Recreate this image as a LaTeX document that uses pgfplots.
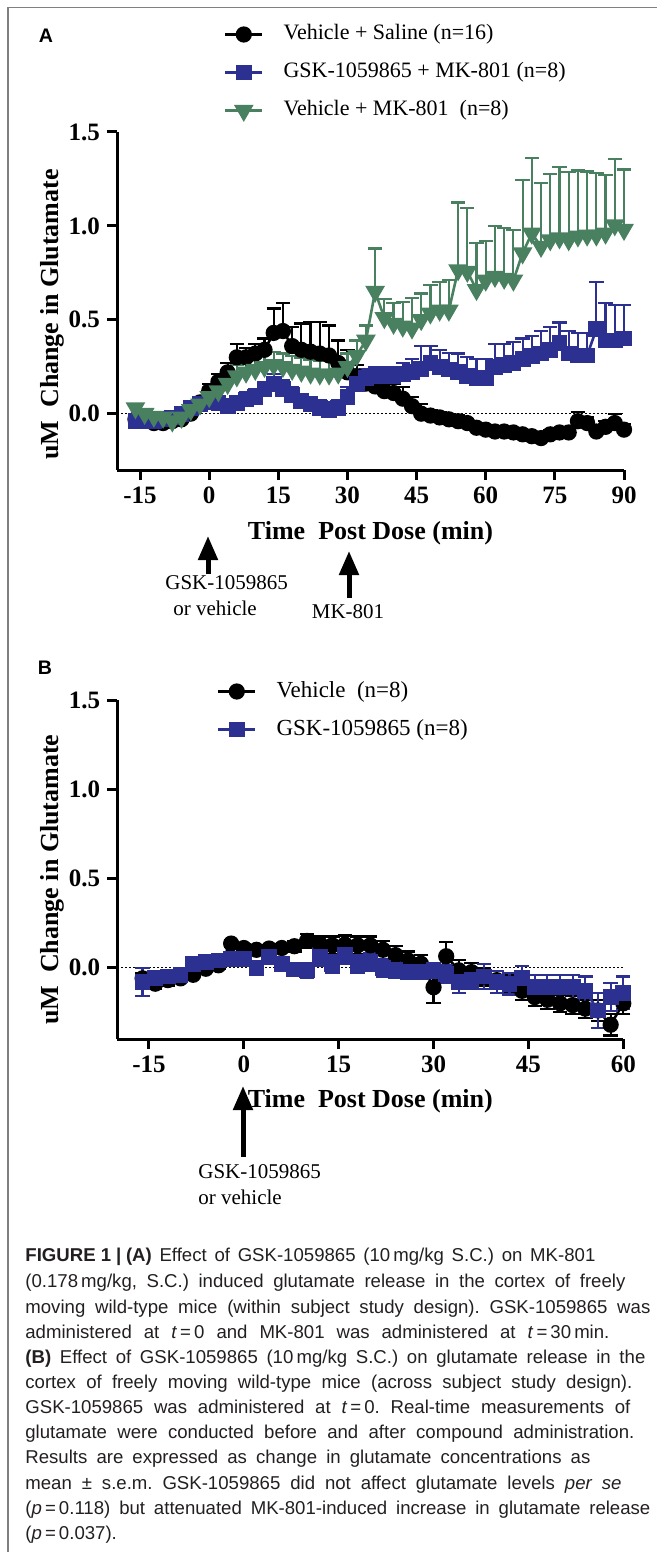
\documentclass[border=0pt]{standalone}
\usepackage{fontspec}
\setmainfont{Liberation Serif}
\setsansfont{Liberation Sans}
\usepackage{pgfplots}
\pgfplotsset{compat=1.18}
\usepackage{pgfplotstable}
\usetikzlibrary{arrows.meta}

\definecolor{gblue}{RGB}{44,48,145}
\definecolor{ggreen}{RGB}{72,128,96}
\definecolor{framegray}{RGB}{128,128,128}
\definecolor{captext}{RGB}{35,31,32}

% panel A: time, mean, s.e.m. (only upper bar drawn)
\pgfplotstableread{
t y e
-16 -0.03 0.02
-14 -0.03 0.02
-12 -0.05 0.02
-10 -0.05 0.02
-8 -0.04 0.02
-6 -0.03 0.02
-4 0.00 0.03
-2 0.06 0.03
0 0.12 0.04
2 0.17 0.04
4 0.22 0.05
6 0.30 0.07
8 0.30 0.05
10 0.32 0.05
12 0.34 0.06
14 0.43 0.13
16 0.44 0.15
18 0.36 0.10
20 0.34 0.14
22 0.33 0.16
24 0.32 0.17
26 0.31 0.16
28 0.27 0.12
30 0.22 0.12
32 0.20 0.06
34 0.16 0.05
36 0.145 0.05
38 0.12 0.05
40 0.11 0.05
42 0.08 0.06
44 0.04 0.05
46 0.00 0.05
48 -0.01 0.03
50 -0.02 0.03
52 -0.03 0.03
54 -0.04 0.03
56 -0.05 0.02
58 -0.075 0.02
60 -0.085 0.02
62 -0.095 0.02
64 -0.095 0.02
66 -0.10 0.02
68 -0.11 0.02
70 -0.12 0.02
72 -0.13 0.02
74 -0.11 0.02
76 -0.10 0.02
78 -0.10 0.02
80 -0.04 0.05
82 -0.05 0.03
84 -0.095 0.03
86 -0.07 0.03
88 -0.05 0.05
90 -0.085 0.03
}\vehsal

\pgfplotstableread{
t y e
-16 -0.04 0.02
-14 -0.04 0.02
-12 -0.04 0.02
-10 -0.03 0.02
-8 -0.02 0.02
-6 0.00 0.02
-4 0.03 0.03
-2 0.05 0.03
0 0.06 0.03
2 0.055 0.03
4 0.04 0.04
6 0.055 0.04
8 0.075 0.04
10 0.09 0.04
12 0.13 0.04
14 0.16 0.05
16 0.13 0.05
18 0.10 0.04
20 0.065 0.04
22 0.05 0.04
24 0.03 0.04
26 0.02 0.04
28 0.03 0.04
30 0.09 0.05
32 0.16 0.05
34 0.19 0.05
36 0.20 0.05
38 0.20 0.05
40 0.20 0.05
42 0.21 0.06
44 0.22 0.07
46 0.24 0.12
48 0.27 0.09
50 0.25 0.09
52 0.235 0.09
54 0.22 0.10
56 0.20 0.10
58 0.19 0.10
60 0.19 0.10
62 0.25 0.12
64 0.26 0.11
66 0.27 0.11
68 0.29 0.11
70 0.305 0.11
72 0.32 0.12
74 0.34 0.12
76 0.375 0.11
78 0.32 0.12
80 0.31 0.12
82 0.31 0.12
84 0.45 0.25
86 0.39 0.20
88 0.39 0.19
90 0.40 0.18
}\gskmk

\pgfplotstableread{
t y e
-16 0.03 0.02
-14 0.00 0.02
-12 -0.015 0.02
-10 -0.02 0.02
-8 -0.04 0.02
-6 -0.02 0.03
-4 0.02 0.03
-2 0.05 0.04
0 0.09 0.05
2 0.12 0.05
4 0.16 0.06
6 0.20 0.06
8 0.22 0.06
10 0.235 0.06
12 0.25 0.07
14 0.26 0.07
16 0.25 0.07
18 0.235 0.07
20 0.225 0.07
22 0.215 0.07
24 0.21 0.07
26 0.21 0.07
28 0.215 0.07
30 0.25 0.07
32 0.31 0.08
34 0.39 0.08
36 0.65 0.23
38 0.51 0.10
40 0.48 0.11
42 0.465 0.13
44 0.455 0.16
46 0.50 0.14
48 0.535 0.15
50 0.55 0.15
52 0.55 0.16
54 0.765 0.36
56 0.757 0.34
58 0.66 0.25
60 0.71 0.21
62 0.73 0.27
64 0.72 0.27
66 0.71 0.27
68 0.855 0.39
70 0.96 0.40
72 0.89 0.34
74 0.925 0.35
76 0.935 0.38
78 0.925 0.36
80 0.945 0.35
82 0.95 0.34
84 0.95 0.33
86 0.96 0.31
88 1.005 0.35
90 0.98 0.32
}\vehmk

% panel B
\pgfplotstableread{
t y e
-16 -0.06 0.03
-14 -0.09 0.03
-12 -0.07 0.03
-10 -0.06 0.02
-8 -0.04 0.02
-6 -0.006 0.02
-4 0.013 0.02
-2 0.135 0.02
0 0.11 0.02
2 0.10 0.02
4 0.107 0.02
6 0.11 0.02
8 0.12 0.03
10 0.15 0.04
12 0.135 0.04
14 0.125 0.05
16 0.13 0.05
18 0.125 0.05
20 0.125 0.05
22 0.10 0.05
24 0.07 0.05
26 0.04 0.05
28 0.022 0.05
30 -0.11 0.09
32 0.064 0.08
34 -0.015 0.06
36 -0.025 0.05
38 -0.05 0.05
40 -0.07 0.05
42 -0.09 0.05
44 -0.13 0.05
46 -0.165 0.05
48 -0.18 0.05
50 -0.20 0.05
52 -0.21 0.05
54 -0.23 0.05
56 -0.24 0.06
58 -0.32 0.06
60 -0.20 0.06
}\vehB

\pgfplotstableread{
t y e
-16 -0.08 0.08
-14 -0.06 0.03
-12 -0.05 0.03
-10 -0.04 0.03
-8 0.02 0.03
-6 0.03 0.03
-4 0.04 0.03
-2 0.05 0.03
0 0.05 0.03
2 0.00 0.03
4 0.06 0.03
6 0.02 0.03
8 -0.01 0.03
10 -0.015 0.04
12 0.06 0.05
14 0.02 0.05
16 0.07 0.05
18 0.02 0.05
20 0.03 0.05
22 0.00 0.05
24 -0.015 0.04
26 -0.025 0.04
28 -0.025 0.04
30 -0.015 0.04
32 -0.035 0.05
34 -0.08 0.06
36 -0.07 0.05
38 -0.05 0.07
40 -0.08 0.06
42 -0.09 0.06
44 -0.06 0.07
46 -0.11 0.07
48 -0.11 0.07
50 -0.11 0.07
52 -0.11 0.07
54 -0.13 0.08
56 -0.24 0.10
58 -0.165 0.08
60 -0.14 0.09
}\gskB

\pgfplotsset{
  prism/.style={
    scale only axis, anchor=south west,
    axis lines=left, axis line style={-, line width=1.5pt},
    tick align=outside, major tick length=5pt,
    tick style={line width=1.5pt, black},
    ytick={0,0.5,1,1.5}, yticklabels={0.0,0.5,1.0,1.5},
    ticklabel style={font=\fontsize{12.5}{12.5}\selectfont\bfseries},
    label style={font=\fontsize{13}{13}\selectfont\bfseries},
    ylabel={uM\ \ Change in Glutamate},
    xlabel={Time\ \ Post Dose (min)},
    clip=false,
    legend cell align=left,
    legend image code/.code={\draw[mark repeat=2,mark phase=2,##1] plot coordinates {(0pt,0pt) (9.25pt,0pt) (18.5pt,0pt)};},
  },
  ebars/.style 2 args={error bars/.cd, y dir=#2, y explicit,
    error bar style={line width=1.1pt, color=#1},
    error mark options={rotate=90, mark size=3.6pt, line width=1.1pt, color=#1}},
}

\begin{document}
\begin{tikzpicture}
\path[use as bounding box] (0pt,0pt) rectangle (328.5pt,-776pt);

% ---------- panel A
\begin{axis}[prism,
  at={(58.5pt,-235pt)}, width=253.5pt, height=169pt,
  xmin=-20, xmax=90, ymin=-0.3, ymax=1.5,
  xtick={-15,0,15,30,45,60,75,90}, xticklabels={-15,0,15,30,45,60,75,90},
  ylabel style={at={(axis description cs:-0.128,0.46)}, anchor=center},
  xlabel style={at={(axis description cs:0.5,-0.186)}, anchor=center},
  legend style={at={(0.211,1.321)}, anchor=north west, draw=none, fill=none,
    inner sep=0pt, outer sep=0pt, row sep=8pt, column sep=10pt,
    font=\fontsize{11}{11}\selectfont,
    nodes={inner sep=0pt, text height=8pt, text depth=3pt}},
]
\draw[black, line width=0.5pt, dash pattern=on 1pt off 1pt] (axis cs:-20,0) -- (axis cs:90,0);
\addplot[black, line width=1.3pt, mark=*, mark size=3.4pt, mark options={solid, fill=black},
  ebars={black}{plus}] table[x=t, y=y, y error=e] {\vehsal};
\addlegendentry{Vehicle + Saline (n=16)}
\addplot[gblue, line width=1.3pt, mark=square*, mark size=3.3pt, mark options={solid, fill=gblue},
  ebars={gblue}{plus}] table[x=t, y=y, y error=e] {\gskmk};
\addlegendentry{GSK-1059865 + MK-801 (n=8)}
\addplot[ggreen, line width=1.3pt, mark=triangle*, mark size=4.4pt, mark options={solid, fill=ggreen, rotate=180},
  ebars={ggreen}{plus}] table[x=t, y=y, y error=e] {\vehmk};
\addlegendentry{Vehicle + MK-801\ \ (n=8)}
\end{axis}

% ---------- panel B
\begin{axis}[prism,
  at={(58.65pt,-519.5pt)}, width=253pt, height=169.5pt,
  xmin=-20, xmax=60, ymin=-0.4, ymax=1.5,
  xtick={-15,0,15,30,45,60}, xticklabels={-15,0,15,30,45,60},
  ylabel style={at={(axis description cs:-0.128,0.47)}, anchor=center},
  xlabel style={at={(axis description cs:0.5,-0.183)}, anchor=center},
  legend style={at={(0.197,1.059)}, anchor=north west, draw=none, fill=none,
    inner sep=0pt, outer sep=0pt, row sep=7.5pt, column sep=10pt,
    font=\fontsize{11.5}{11.5}\selectfont,
    nodes={inner sep=0pt, text height=8.5pt, text depth=3pt}},
]
\draw[black, line width=0.5pt, dash pattern=on 1pt off 1pt] (axis cs:-20,0) -- (axis cs:60,0);
\addplot[black, line width=1.3pt, mark=*, mark size=3.4pt, mark options={solid, fill=black},
  ebars={black}{both}] table[x=t, y=y, y error=e] {\vehB};
\addlegendentry{Vehicle\ \ (n=8)}
\addplot[gblue, line width=1.3pt, mark=square*, mark size=3.3pt, mark options={solid, fill=gblue},
  ebars={gblue}{both}] table[x=t, y=y, y error=e] {\gskB};
\addlegendentry{GSK-1059865 (n=8)}
\end{axis}

% ---------- annotations, in pixel units of the reference
\begin{scope}[x=0.5pt, y=-0.5pt]
\draw[framegray, line width=0.6pt] (8,1552) -- (8,7.5) -- (657,7.5);
\node[font=\sffamily\bfseries\fontsize{9.8}{9.8}\selectfont] at (46,36) {A};
\node[font=\sffamily\bfseries\fontsize{9.8}{9.8}\selectfont] at (45,668) {B};

\draw[line width=2.5pt, -{Triangle[width=9.5pt,length=12pt]}] (208,574) -- (208,536);
\draw[line width=2.5pt, -{Triangle[width=9.5pt,length=12pt]}] (349,598) -- (349,551);
\draw[line width=2.5pt, -{Triangle[width=9.5pt,length=12pt]}] (243,1157) -- (243,1086);

\begin{scope}[every node/.style={font=\fontsize{10.5}{10.5}\selectfont, inner sep=0pt}]
\node[anchor=west] at (165,583) {GSK-1059865};
\node[anchor=west] at (173,608) {or vehicle};
\node at (348,612) {MK-801};
\node[anchor=west] at (198,1172) {GSK-1059865};
\node[anchor=west] at (198,1197) {or vehicle};
\end{scope}

\begin{scope}[every node/.style={anchor=base west, inner sep=0pt, text=captext,
    font=\sffamily\fontsize{9.3}{9.3}\selectfont\frenchspacing}]
\node at (25,1261.5) {\makebox[285pt][s]{\textbf{FIGURE\hspace{2.6pt}1\hspace{2.4pt}|\hspace{2.4pt}(A)} Effect of GSK-1059865 (10\,mg/kg S.C.) on MK-801}};
\node at (25,1287.5) {\makebox[300pt][s]{(0.178\,mg/kg, S.C.) induced glutamate release in the cortex of freely}};
\node at (25,1313) {\makebox[312.5pt][s]{moving wild-type mice (within subject study design). GSK-1059865 was}};
\node at (25,1338) {\makebox[292pt][s]{administered at \textit{t}\,=\,0 and MK-801 was administered at \textit{t}\,=\,30\,min.}};
\node at (25,1363) {\makebox[310pt][s]{\textbf{(B)} Effect of GSK-1059865 (10\,mg/kg S.C.) on glutamate release in the}};
\node at (25,1388) {\makebox[303.5pt][s]{cortex of freely moving wild-type mice (across subject study design).}};
\node at (25,1413) {\makebox[302.5pt][s]{GSK-1059865 was administered at \textit{t}\,=\,0. Real-time measurements of}};
\node at (25,1438) {\makebox[304.5pt][s]{glutamate were conducted before and after compound administration.}};
\node at (25,1463.5) {\makebox[282.5pt][s]{Results are expressed as change in glutamate concentrations as}};
\node at (25,1489) {\makebox[298pt][s]{mean ± s.e.m. GSK-1059865 did not affect glutamate levels \textit{per\ se}}};
\node at (25,1514) {\makebox[312.5pt][s]{(\textit{p}\,=\,0.118) but attenuated MK-801-induced increase in glutamate release}};
\node at (25,1539) {(\textit{p}\,=\,0.037).};
\end{scope}
\end{scope}
\end{tikzpicture}
\end{document}
